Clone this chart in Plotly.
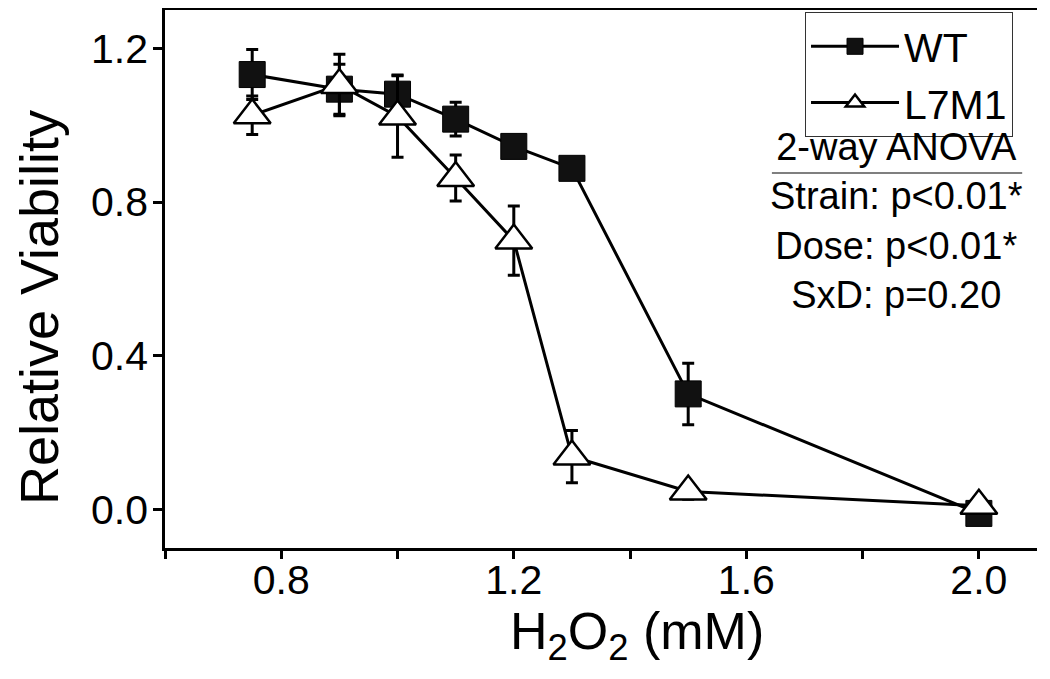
import plotly.graph_objects as go

# H2O2 dose (mM)
DOSE = [0.75, 0.9, 1.0, 1.1, 1.2, 1.3, 1.5, 2.0]

WT_VIABILITY = [1.132, 1.094, 1.081, 1.016, 0.945, 0.888, 0.301, -0.01]
WT_ERR = [0.065, 0.065, 0.05, 0.044, 0.015, 0.015, 0.08, 0.015]

L7M1_VIABILITY = [1.026, 1.105, 1.023, 0.863, 0.700, 0.138, 0.047, 0.01]
L7M1_ERR = [0.05, 0.08, 0.106, 0.06, 0.09, 0.068, 0.02, 0.02]

X_TICKS = [0.6, 0.8, 1.0, 1.2, 1.4, 1.6, 1.8, 2.0]
X_TICK_LABELS = ["", "0.8", "", "1.2", "", "1.6", "", "2.0"]
Y_TICKS = [0.0, 0.4, 0.8, 1.2]
Y_TICK_LABELS = ["0.0", "0.4", "0.8", "1.2"]
Y_RIGHT_TICKS = [0.0, 0.2, 0.4, 0.6, 0.8, 1.0, 1.2]

ANOVA_LINES = ["2-way ANOVA", "Strain: p<0.01*", "Dose: p<0.01*", "SxD: p=0.20"]

FONT = "Liberation Sans, Arial, sans-serif"
X_RANGE = [0.6, 2.1]
Y_RANGE = [-0.1, 1.3]

fig = go.Figure()
fig.add_trace(
    go.Scatter(
        x=DOSE,
        y=WT_VIABILITY,
        name="WT",
        mode="lines+markers",
        line={"color": "black", "width": 3},
        marker={"symbol": "square", "size": 26, "color": "#111111",
                "line": {"color": "black", "width": 1}},
        error_y={"type": "data", "array": WT_ERR, "color": "black",
                 "thickness": 3, "width": 6},
    )
)
fig.add_trace(
    go.Scatter(
        x=DOSE,
        y=L7M1_VIABILITY,
        name="L7M1",
        mode="lines+markers",
        line={"color": "black", "width": 3},
        marker={"symbol": "triangle-up", "size": 32, "color": "white",
                "line": {"color": "black", "width": 2.5}},
        error_y={"type": "data", "array": L7M1_ERR, "color": "black",
                 "thickness": 3, "width": 6},
    )
)

# the page body adds an 8px offset, so margins are shifted by that amount
fig.update_layout(
    width=1050,
    height=679,
    margin={"l": 157, "r": 21, "t": 2, "b": 139, "autoexpand": False},
    paper_bgcolor="white",
    plot_bgcolor="white",
    font={"family": FONT, "color": "black", "size": 40},
    showlegend=True,
    legend={
        "x": 0.9725, "y": 0.996, "xanchor": "right", "yanchor": "top",
        "bordercolor": "#333333", "borderwidth": 1, "bgcolor": "white",
        "font": {"size": 41, "family": FONT},
        "itemwidth": 88, "tracegroupgap": 0,
    },
    xaxis={
        "range": X_RANGE, "tickmode": "array", "tickvals": X_TICKS,
        "ticktext": X_TICK_LABELS, "ticks": "outside", "ticklen": 8,
        "tickwidth": 2.5, "tickcolor": "black", "showline": True,
        "linecolor": "black", "linewidth": 2.5, "mirror": True,
        "showgrid": False, "zeroline": False, "automargin": False,
        "ticklabelstandoff": -14,
        "tickfont": {"size": 41, "family": FONT},
    },
    yaxis={
        "range": Y_RANGE, "tickmode": "array", "tickvals": Y_TICKS,
        "ticktext": Y_TICK_LABELS, "ticks": "outside", "ticklen": 9,
        "tickwidth": 2.5, "tickcolor": "black", "showline": True,
        "linecolor": "black", "linewidth": 2.5, "automargin": False,
        "showgrid": False, "zeroline": False, "ticklabelstandoff": -3,
        "tickfont": {"size": 41, "family": FONT},
    },
    yaxis2={
        "range": Y_RANGE, "overlaying": "y", "side": "right",
        "tickmode": "array", "tickvals": Y_RIGHT_TICKS, "ticks": "inside",
        "ticklen": 10, "tickwidth": 2.5, "tickcolor": "black",
        "showticklabels": False, "showline": True, "linecolor": "black",
        "linewidth": 2.5, "showgrid": False, "zeroline": False,
        "automargin": False,
    },
)

# axis titles
fig.add_annotation(
    text="H<sub>2</sub>O<sub>2</sub> (mM)", xref="paper", yref="paper",
    x=0.541, y=-0.162, xanchor="center", yanchor="middle", showarrow=False,
    font={"size": 52, "family": FONT},
)
fig.add_annotation(
    text="Relative Viability", xref="paper", yref="paper", textangle=-90,
    x=-0.145, y=0.447, xanchor="center", yanchor="middle", showarrow=False,
    font={"size": 54, "family": FONT},
)

# ANOVA summary under the legend
fig.add_annotation(
    text="<br>".join(ANOVA_LINES), xref="paper", yref="paper",
    x=0.8394, y=0.607, xanchor="center", yanchor="middle", align="center",
    showarrow=False, font={"size": 38, "family": FONT},
)
fig.add_shape(
    type="line", xref="paper", yref="paper", x0=0.696, x1=0.983,
    y0=0.697, y1=0.697, line={"color": "#555555", "width": 1.5},
)

fig.write_html("out.html")
